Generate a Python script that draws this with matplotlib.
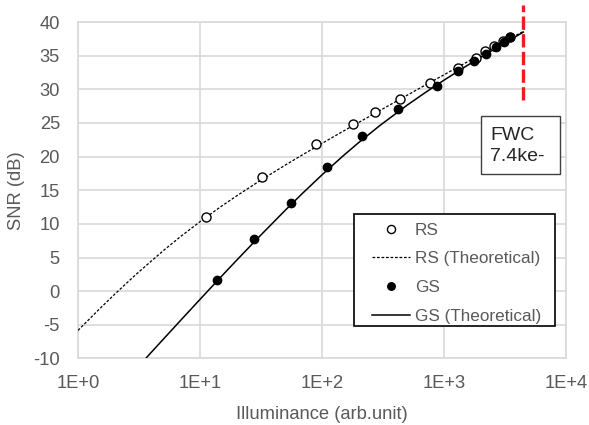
import matplotlib
matplotlib.use("Agg")
import matplotlib.pyplot as plt
from matplotlib.patches import Rectangle

plt.rcParams['font.family'] = ['Liberation Sans', 'DejaVu Sans']
plt.rcParams['axes.unicode_minus'] = False

# Measured data
rs_x = [11.1, 32, 90, 181, 272, 438, 773, 1295, 1820, 2180, 2580, 3060, 3460]
rs_y = [11.0, 17.0, 21.8, 24.9, 26.6, 28.5, 31.0, 33.2, 34.7, 35.7, 36.4, 37.2, 37.8]
gs_x = [13.7, 27.7, 55.7, 110, 214, 422, 871, 1310, 1770, 2200, 2670, 3120, 3490]
gs_y = [1.65, 7.7, 13.1, 18.4, 23.1, 27.0, 30.5, 32.75, 34.2, 35.3, 36.3, 37.0, 37.8]

# Theoretical curves
rs_th_x = [1, 1.5, 2, 3, 5, 7, 10, 15, 20, 30, 50, 70, 100, 150, 200, 300, 500, 700,
           1000, 1500, 2000, 3000, 4470]
rs_th_y = [-5.83, -2.64, -0.45, 2.52, 6.02, 8.18, 10.33, 12.63, 14.17, 16.25, 18.74,
           20.32, 21.96, 23.80, 25.08, 26.88, 29.13, 30.61, 32.16, 33.93, 35.19, 36.95, 38.6]
gs_th_x = [3.5, 5, 7, 10, 15, 20, 30, 50, 70, 100, 150, 200, 300, 500, 700,
           1000, 1500, 2000, 3000, 4470]
gs_th_y = [-10.21, -7.14, -4.26, -1.22, 2.21, 4.61, 7.94, 12.03, 14.63, 17.29, 20.16,
           22.09, 24.66, 27.66, 29.50, 31.36, 33.38, 34.77, 36.67, 38.5]

fwc_x = 4470
fwc_y = [28.4, 42.6]

x_ticks = [1, 10, 100, 1000, 10000]
x_ticklabels = ['1E+0', '1E+1', '1E+2', '1E+3', '1E+4']
y_ticks = list(range(-10, 41, 5))

fig = plt.figure(figsize=(5.89, 4.25), dpi=100)
ax = fig.add_axes([0.1324, 0.1565, 0.8286, 0.7917])

ax.set_xscale('log')
ax.set_xlim(1, 10000)
ax.set_ylim(-10, 40)
ax.set_xticks(x_ticks)
ax.set_xticklabels(x_ticklabels)
ax.xaxis.set_minor_locator(matplotlib.ticker.NullLocator())
ax.set_yticks(y_ticks)
ax.grid(True, color='#d9d9d9', linewidth=1.2)
ax.set_axisbelow(True)
for s in ax.spines.values():
    s.set_color('#d9d9d9')
    s.set_linewidth(1.2)
ax.tick_params(axis='x', length=0, labelsize=13.2, colors='#595959', pad=12)
ax.tick_params(axis='y', length=0, labelsize=13.2, colors='#595959', pad=13)

ax.plot(rs_x, rs_y, 'o', mfc='white', mec='black', mew=1.0, ms=6.5, label='RS', zorder=4)
ax.plot(rs_th_x, rs_th_y, color='black', lw=0.9, dashes=(2.2, 1.4), label='RS (Theoretical)', zorder=3)
ax.plot(gs_x, gs_y, 'o', mfc='black', mec='black', ms=6.0, label='GS', zorder=4)
ax.plot(gs_th_x, gs_th_y, color='black', lw=1.1, label='GS (Theoretical)', zorder=3)

ax.plot([fwc_x, fwc_x], fwc_y, color='#ee1c25', lw=2.4, dashes=(4.0, 1.3), clip_on=False, zorder=5)

ax.set_xlabel('Illuminance (arb.unit)', fontsize=13.2, color='#595959', labelpad=10)
ax.set_ylabel('SNR (dB)', fontsize=13.2, color='#595959', labelpad=6)

# legend frame drawn separately
ax.add_patch(Rectangle((0.5664, 0.0975), 0.4119, 0.3305, transform=ax.transAxes,
                       facecolor='white', edgecolor='black', lw=1.2, zorder=6))
leg = ax.legend(loc='upper left', bbox_to_anchor=(0.603, 0.404), fontsize=12.3,
                frameon=False, handlelength=2.2, handletextpad=0.3, labelspacing=0.8,
                borderpad=0, borderaxespad=0, markerscale=0.9)
leg.set_zorder(7)
for t in leg.get_texts():
    t.set_color('#595959')

ax.add_patch(Rectangle((0.8256, 0.547), 0.1625, 0.173, transform=ax.transAxes,
                       facecolor='white', edgecolor='#404040', lw=1.0, zorder=6))
ax.text(0.844, 0.632, 'FWC\n7.4ke-', transform=ax.transAxes, ha='left', va='center',
        fontsize=14, color='#262626', linespacing=1.33, zorder=7)

fig.savefig('out.png', dpi=100)
